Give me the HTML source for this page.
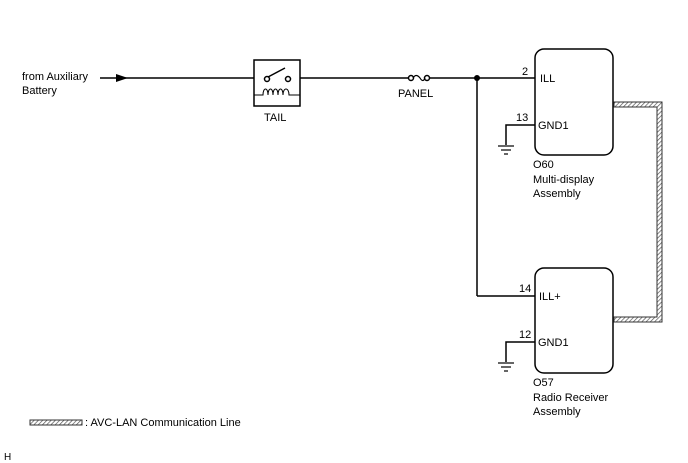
<html><body style="margin:0;background:#fff">
<svg width="688" height="463" xmlns="http://www.w3.org/2000/svg" font-family="Liberation Sans, Arial, sans-serif" font-size="11">
<defs><pattern id="h" width="3" height="3" patternUnits="userSpaceOnUse" patternTransform="rotate(45)"><rect width="3" height="3" fill="#fff"/><line x1="0" y1="0" x2="0" y2="3" stroke="#555" stroke-width="1.4"/></pattern></defs>
<g stroke="#000" stroke-width="1.5" fill="none">
<line x1="100" y1="78" x2="254" y2="78"/>
<line x1="300" y1="78" x2="408" y2="78"/>
<line x1="430" y1="78" x2="535" y2="78"/>
<rect x="254" y="60" width="46" height="46"/>
<circle cx="267" cy="79" r="2.5" fill="#fff"/><circle cx="288" cy="79" r="2.5" fill="#fff"/>
<line x1="268" y1="77" x2="285" y2="68"/>
<path d="M254 95 H263 c0-8 5-8 5 0 c0-8 5-8 5 0 c0-8 5-8 5 0 c0-8 5-8 5 0 c0-8 6-8 6 0 H300" stroke-width="1"/>
<circle cx="411" cy="78" r="2.5" fill="#fff"/><circle cx="427" cy="78" r="2.5" fill="#fff"/>
<path d="M413 78 q3 -5 7 0 q3 5 5 0" stroke-width="1.2"/>
<line x1="477" y1="78" x2="477" y2="296"/>
<line x1="477" y1="296" x2="535" y2="296"/>
<path d="M535 125 H506 V145"/>
<path d="M535 342 H506 V362"/>
<rect x="535" y="49" width="78" height="106" rx="9"/>
<rect x="535" y="268" width="78" height="105" rx="9"/>
</g>
<circle cx="477" cy="78" r="3"/>
<polygon points="116,74 128,78 116,82"/>
<g stroke="#000" stroke-width="1.2">
<line x1="498" y1="146" x2="514" y2="146"/><line x1="501" y1="150" x2="511" y2="150"/><line x1="504" y1="154" x2="508" y2="154"/>
<line x1="498" y1="363" x2="514" y2="363"/><line x1="501" y1="367" x2="511" y2="367"/><line x1="504" y1="371" x2="508" y2="371"/>
</g>
<path d="M614 102 H662 V322 H614 V317 H657 V107 H614 Z" fill="url(#h)" stroke="#333" stroke-width="1"/>
<rect x="30" y="420" width="52" height="5" fill="url(#h)" stroke="#333" stroke-width="1"/>
<g fill="#000">
<text x="22" y="80">from Auxiliary</text><text x="22" y="94">Battery</text>
<text x="264" y="121">TAIL</text>
<text x="398" y="97">PANEL</text>
<text x="522" y="75">2</text><text x="540" y="82">ILL</text>
<text x="516" y="121">13</text><text x="538" y="129">GND1</text>
<text x="533" y="168">O60</text><text x="533" y="183">Multi-display</text><text x="533" y="197">Assembly</text>
<text x="519" y="292">14</text><text x="539" y="300">ILL+</text>
<text x="519" y="338">12</text><text x="538" y="346">GND1</text>
<text x="533" y="386">O57</text><text x="533" y="401">Radio Receiver</text><text x="533" y="415">Assembly</text>
<text x="85" y="426">: AVC-LAN Communication Line</text>
<text x="4" y="460" font-size="10">H</text>
</g>
</svg>
</body></html>
